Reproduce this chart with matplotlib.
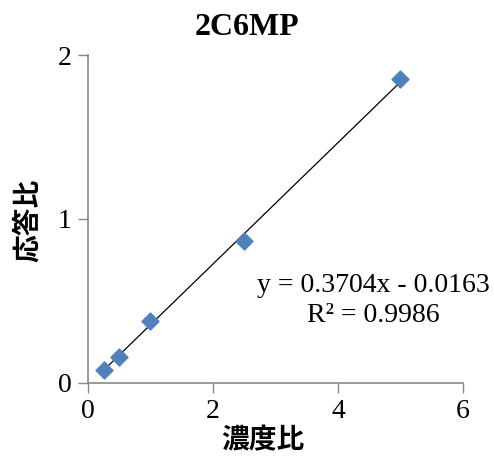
import matplotlib.pyplot as plt
import numpy as np

# 차트 폰트
plt.rcParams['font.family'] = ['Liberation Serif', 'Noto Sans CJK JP']

# 데이터
conc = [0.25, 0.5, 1.0, 2.5, 5.0]
resp = [0.079, 0.16, 0.378, 0.866, 1.854]
slope = 0.3704
intercept = -0.0163

fig = plt.figure(figsize=(4.94, 4.59), dpi=100)
ax = fig.add_axes([0.178, 0.166, 0.759, 0.714])

# 추세선
xl = np.array([min(conc), max(conc)])
ax.plot(xl, slope * xl + intercept, color='black', lw=0.9, zorder=2)
ax.scatter(conc, resp, marker='D', s=75, color='#4F81BD', zorder=3)

ax.set_xlim(0, 6)
ax.set_ylim(0, 2)
ax.set_xticks([0, 2, 4, 6])
ax.set_yticks([0, 1, 2])
ax.tick_params(labelsize=20, color='#888888', length=7, width=1, direction='out', pad=5)
for s in ['top', 'right']:
    ax.spines[s].set_visible(False)
for s in ['left', 'bottom']:
    ax.spines[s].set_color('#888888')
    ax.spines[s].set_linewidth(1.2)

fig.text(0.5, 0.94, '2C6MP', fontsize=23, fontweight='bold', ha='center', va='center')
fig.text(0.532, 0.04, '濃度比', fontsize=20, fontweight='bold', family='Noto Sans CJK JP',
         ha='center', va='center')
fig.text(0.057, 0.52, '応答比', fontsize=20, fontweight='bold', family='Noto Sans CJK JP',
         ha='center', va='center', rotation=90)

ax.text(4.56, 0.5, 'y = 0.3704x - 0.0163\nR² = 0.9986', fontsize=20,
        ha='center', va='center', multialignment='center', linespacing=1.25)

fig.savefig('out.png', dpi=100)
